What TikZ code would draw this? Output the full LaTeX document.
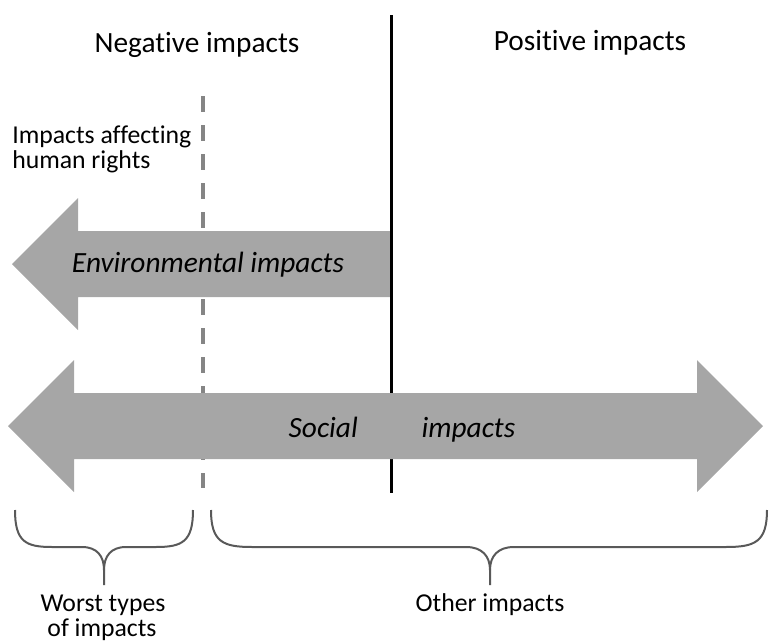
\documentclass[tikz,border=0pt]{standalone}
\usepackage{fontspec}
\setmainfont{Carlito}[Ligatures=NoCommon]
\usetikzlibrary{arrows.meta}
\definecolor{arrowgray}{HTML}{A6A6A6}
\definecolor{dashgray}{HTML}{858585}
\definecolor{bracegray}{HTML}{595959}

\begin{document}
\begin{tikzpicture}[x=0.75pt,y=-0.75pt,
  bigtxt/.style={font=\fontsize{22}{26}\selectfont},
  smalltxt/.style={font=\fontsize{19.3}{22.5}\selectfont},
  bracepath/.style={draw=bracegray,line width=1.5pt,line join=round}]
\useasboundingbox (0,0) rectangle (769,643);
\node[bigtxt,anchor=base] (neg) at (197,52) {Negative impacts};
\node[bigtxt,anchor=base] (pos) at (590,50) {Positive impacts};
\node[smalltxt,anchor=base west,inner sep=0pt] (hra) at (12,143) {Impacts affecting};
\node[smalltxt,anchor=base west,inner sep=0pt] (hrb) at (12,168) {human rights};
\draw[dashgray,line width=3pt,dash pattern=on 12pt off 9.75pt] (203,96) -- (203,488);
\pgfmathsetmacro{\envtop}{231}
\pgfmathsetmacro{\envbot}{297}
\fill[arrowgray] (392,\envtop) -- (78,\envtop) -- (78,198) -- (12,264) -- (78,330) -- (78,\envbot) -- (392,\envbot) -- cycle;
\node[bigtxt,font=\fontsize{22}{26}\selectfont\itshape,anchor=base] (env) at (208,272) {Environmental impacts};
\draw[line width=2.25pt] (391,15) -- (391,493);
\pgfmathsetmacro{\soctop}{393}
\pgfmathsetmacro{\socbot}{459}
\fill[arrowgray] (8,426) -- (74,360) -- (74,\soctop) -- (697,\soctop) -- (697,360) -- (763,426) -- (697,492) -- (697,\socbot) -- (74,\socbot) -- (74,492) -- cycle;
\node[bigtxt,font=\fontsize{22}{26}\selectfont\itshape,anchor=base] (soc) at (402,437) {Social\hspace{48pt}impacts};
\draw[bracepath] (15,510) .. controls (15,542) and (26,547) .. (52,547) -- (82,547) .. controls (97,547) and (104,556) .. (104,570) -- (104,585);
\draw[bracepath] (193,510) .. controls (193,542) and (182,547) .. (156,547) -- (126,547) .. controls (111,547) and (104,556) .. (104,570);
\draw[bracepath] (211,510) .. controls (211,542) and (223,547) .. (252,547) -- (466,547) .. controls (482,547) and (490,556) .. (490,570) -- (490,585);
\draw[bracepath] (767,510) .. controls (767,542) and (755,547) .. (726,547) -- (514,547) .. controls (498,547) and (490,556) .. (490,570);
\node[smalltxt,anchor=base] (worsta) at (103,611) {Worst types};
\node[smalltxt,anchor=base] (worstb) at (102,636) {of impacts};
\node[smalltxt,anchor=base] (other) at (490,611) {Other impacts};
\end{tikzpicture}
\end{document}
